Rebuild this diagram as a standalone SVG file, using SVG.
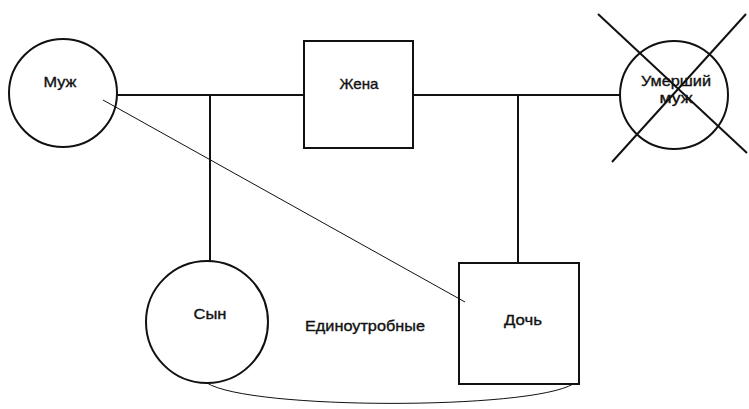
<svg xmlns="http://www.w3.org/2000/svg" width="749" height="409" viewBox="0 0 749 409">
<style>
.n{fill:none;stroke:#111;stroke-width:2}
.c{fill:none;stroke:#111;stroke-width:2}
.t{fill:none;stroke:#111;stroke-width:1}
text{font-family:"Liberation Sans",Arial,sans-serif;font-size:15px;fill:#111;stroke:#111;stroke-width:0.35;text-anchor:middle}
</style>
<rect width="749" height="409" fill="#fff"/>
<g id="connectors">
<line class="c" x1="117" y1="95" x2="304" y2="95"/>
<line class="c" x1="413" y1="95" x2="620" y2="95"/>
<line class="c" x1="210" y1="95" x2="210" y2="262"/>
<line class="c" x1="518" y1="95" x2="518" y2="263"/>
<line class="t" x1="103" y1="100" x2="465" y2="302"/>
<path class="t" d="M207 383 C250 410 530 410 573 384"/>
</g>
<g id="muzh">
<circle class="n" cx="63" cy="93" r="54"/>
<text x="60" y="87" textLength="33" lengthAdjust="spacingAndGlyphs">Муж</text>
</g>
<g id="zhena">
<rect class="n" x="304" y="41" width="109" height="107"/>
<text x="359" y="89" textLength="39" lengthAdjust="spacingAndGlyphs">Жена</text>
</g>
<g id="umershiy">
<circle class="n" cx="674" cy="95" r="54"/>
<text x="676" y="86" textLength="70" lengthAdjust="spacingAndGlyphs">Умерший</text>
<text x="676" y="103" textLength="33" lengthAdjust="spacingAndGlyphs">муж</text>
<line class="n" x1="598" y1="14" x2="747" y2="153"/>
<line class="n" x1="746" y1="14" x2="612" y2="162"/>
</g>
<g id="syn">
<circle class="n" cx="207" cy="322" r="61"/>
<text x="210" y="319" textLength="33" lengthAdjust="spacingAndGlyphs">Сын</text>
</g>
<g id="doch">
<rect class="n" x="459" y="263" width="120" height="121"/>
<text x="523" y="325" textLength="38" lengthAdjust="spacingAndGlyphs">Дочь</text>
</g>
<text x="365" y="331" textLength="120" lengthAdjust="spacingAndGlyphs">Единоутробные</text>
</svg>
